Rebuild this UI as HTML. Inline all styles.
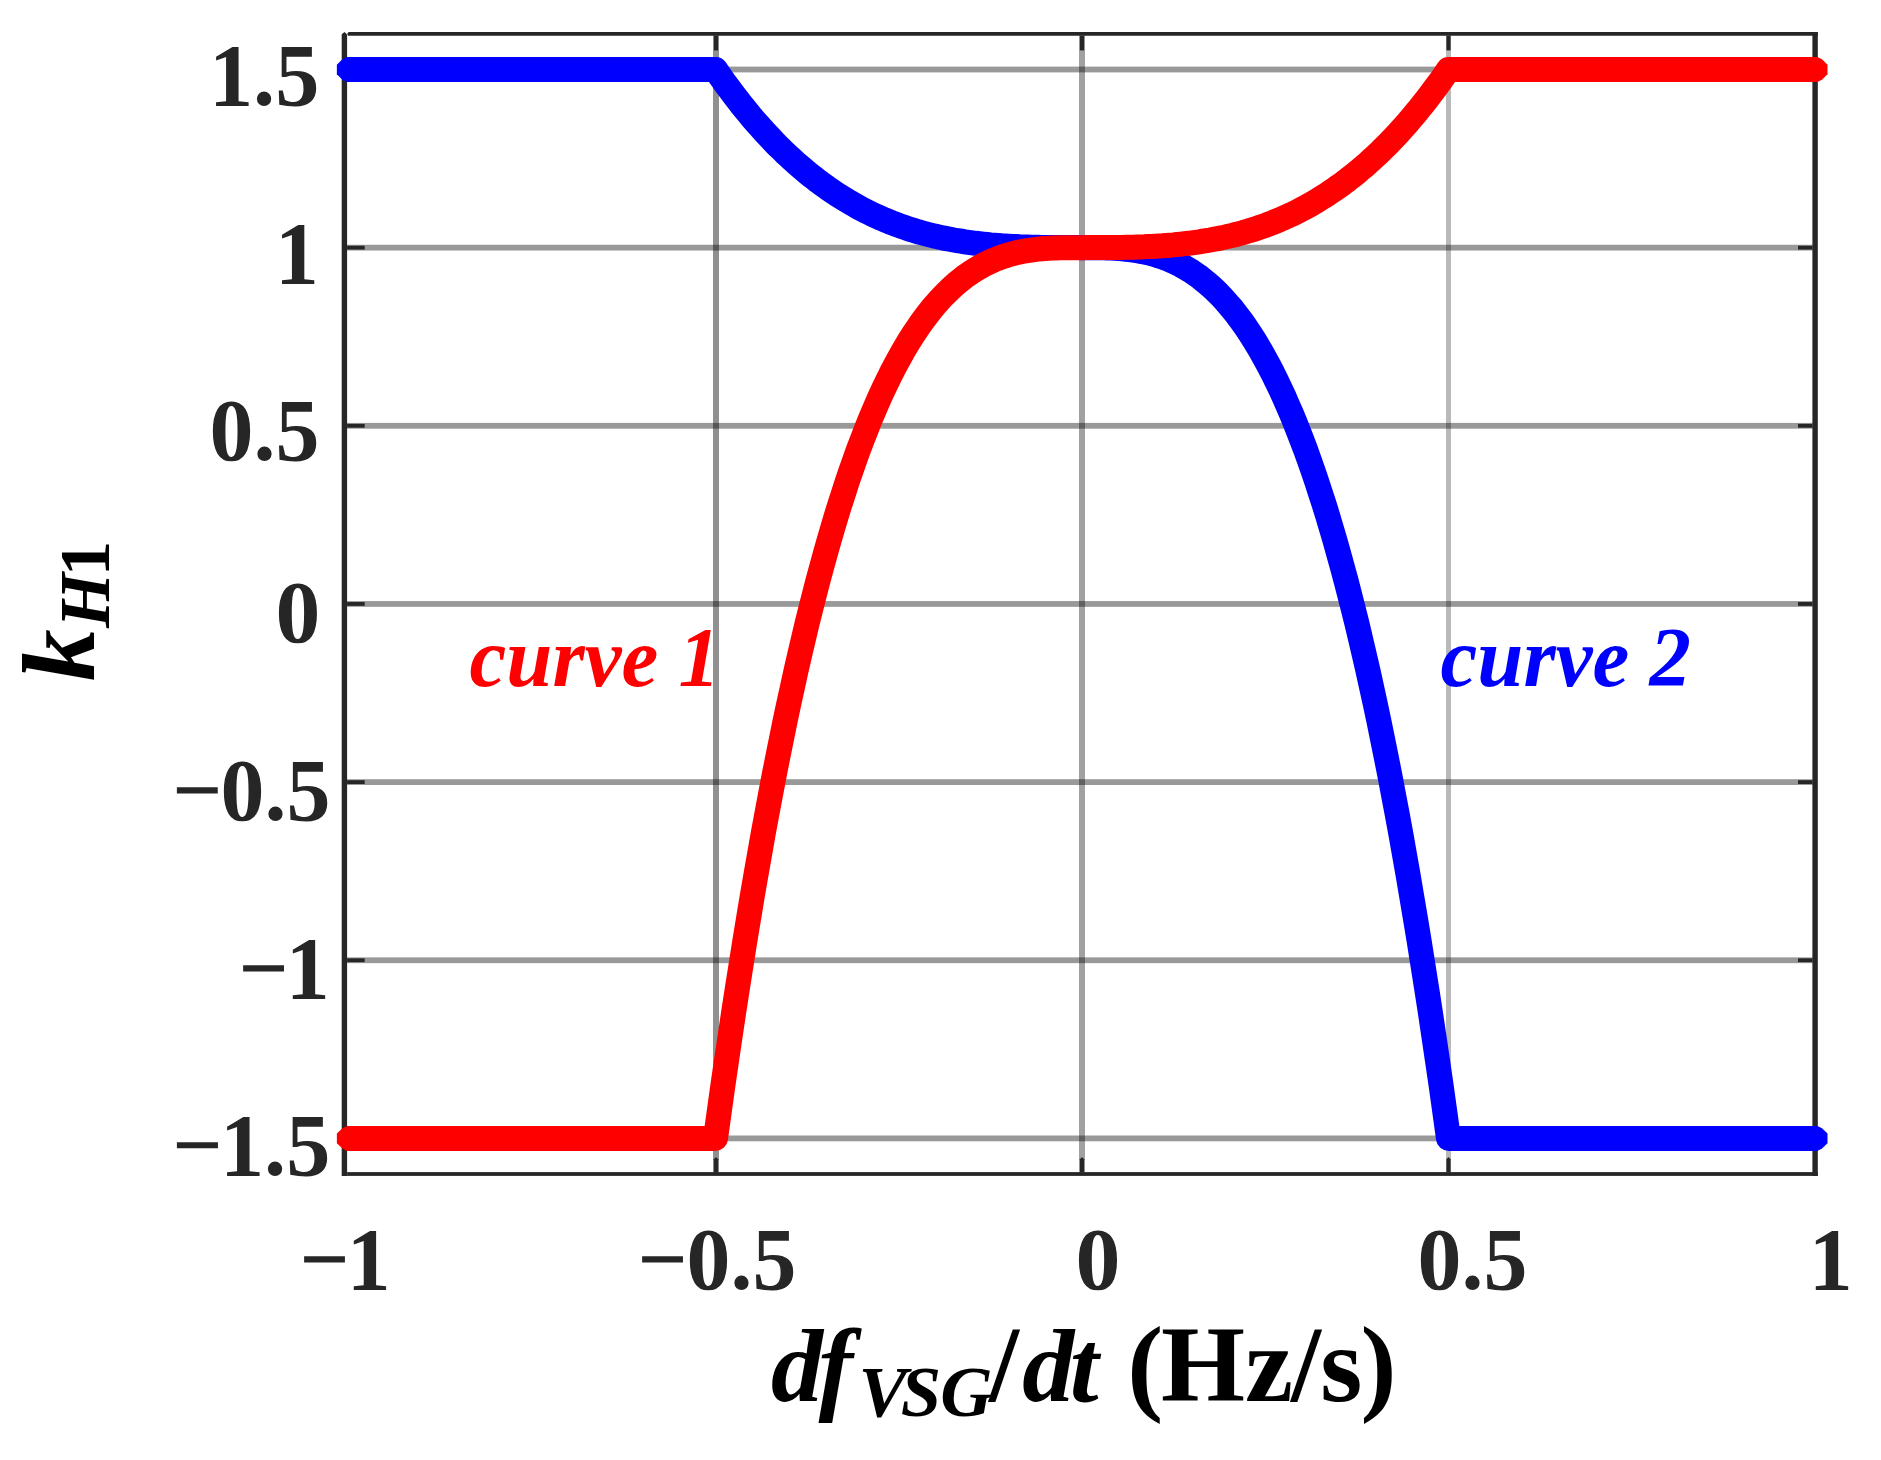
<!DOCTYPE html>
<html lang="en"><head><meta charset="utf-8"><title>kH1 versus dfVSG/dt</title>
<style>html,body{margin:0;padding:0;background:#fff}svg{display:block}</style>
</head><body>
<svg width="1881" height="1460" viewBox="0 0 1881 1460" role="img" aria-label="kH1 versus dfVSG/dt (Hz/s): curve 1 and curve 2">
<rect x="0" y="0" width="1881" height="1460" fill="#fff"/>
<g id="grid" fill="#000">
<rect x="344.4" y="66.60" width="1470.70" height="5.8" fill-opacity="0.4"/>
<rect x="344.4" y="244.75" width="1470.70" height="5.8" fill-opacity="0.4"/>
<rect x="344.4" y="422.90" width="1470.70" height="5.8" fill-opacity="0.4"/>
<rect x="344.4" y="601.05" width="1470.70" height="5.8" fill-opacity="0.4"/>
<rect x="344.4" y="779.20" width="1470.70" height="5.8" fill-opacity="0.4"/>
<rect x="344.4" y="957.35" width="1470.70" height="5.8" fill-opacity="0.4"/>
<rect x="344.4" y="1135.50" width="1470.70" height="5.8" fill-opacity="0.4"/>
<rect x="713.00" y="33.9" width="6.0" height="1140.10" fill-opacity="0.435"/>
<rect x="1079.00" y="33.9" width="6.0" height="1140.10" fill-opacity="0.37"/>
<rect x="1446.00" y="33.9" width="5.0" height="1140.10" fill-opacity="0.275"/>
</g>
<g id="box" fill="#262626">
<polygon points="341.7,1175.90 341.7,34.3 344.5,31.9 347.1,34.6 347.1,1175.90"/>
<rect x="1812.40" y="32.00" width="5.4" height="1143.90"/>
<polygon points="347.1,33.9 348.6,32.00 1817.80,32.00 1817.80,35.80 348.2,35.80"/>
<rect x="347.1" y="1172.10" width="1470.70" height="3.8"/>
<rect x="347.10" y="67.60" width="17.6" height="3.8"/>
<rect x="1798.0" y="67.60" width="14.40" height="3.8"/>
<rect x="347.10" y="245.75" width="17.6" height="3.8"/>
<rect x="1798.0" y="245.75" width="14.40" height="3.8"/>
<rect x="347.10" y="423.90" width="17.6" height="3.8"/>
<rect x="1798.0" y="423.90" width="14.40" height="3.8"/>
<rect x="347.10" y="602.05" width="17.6" height="3.8"/>
<rect x="1798.0" y="602.05" width="14.40" height="3.8"/>
<rect x="347.10" y="780.20" width="17.6" height="3.8"/>
<rect x="1798.0" y="780.20" width="14.40" height="3.8"/>
<rect x="347.10" y="958.35" width="17.6" height="3.8"/>
<rect x="1798.0" y="958.35" width="14.40" height="3.8"/>
<rect x="347.10" y="1136.50" width="17.6" height="3.8"/>
<rect x="1798.0" y="1136.50" width="14.40" height="3.8"/>
<rect x="713.90" y="35.80" width="4.2" height="14.6"/>
<polygon points="713.90,1172.10 713.90,1159.2 716.00,1157.0 718.10,1159.2 718.10,1172.10"/>
<rect x="1079.90" y="35.80" width="4.2" height="14.6"/>
<polygon points="1079.90,1172.10 1079.90,1159.2 1082.00,1157.0 1084.10,1159.2 1084.10,1172.10"/>
<rect x="1446.40" y="35.80" width="4.2" height="14.6"/>
<polygon points="1446.40,1172.10 1446.40,1159.2 1448.50,1157.0 1450.60,1159.2 1450.60,1172.10"/>
</g>
<g id="text" font-family="'Liberation Serif', serif" font-weight="bold">
<text transform="translate(469.56,686.18) scale(0.9806,1)" font-size="84.5" font-style="italic" fill="#f00" dx="0 0 0 0 0 0 -0.43">curve 1</text>
<text transform="translate(1440.56,686.18) scale(0.9806,1)" font-size="84.5" font-style="italic" fill="#00f" dx="0 0 0 0 0 0 -0.55">curve 2</text>
<text transform="translate(208.93,104.57) scale(0.9931,1)" font-size="89.0" fill="#262626">1.5</text>
<text transform="translate(274.89,282.67) scale(0.9845,1)" font-size="89.0" fill="#262626">1</text>
<text transform="translate(209.50,459.94) scale(0.9878,1)" font-size="89.0" fill="#262626">0.5</text>
<text transform="translate(275.53,642.00) scale(1.0086,1)" font-size="89.0" fill="#262626">0</text>
<text transform="translate(220.50,819.92) scale(0.9878,1)" font-size="89.0" fill="#262626" x="-48.75 0">−0.5</text>
<text transform="translate(285.77,997.79) scale(0.9875,1)" font-size="89.0" fill="#262626" x="-47.86 0">−1</text>
<text transform="translate(219.94,1174.55) scale(0.9921,1)" font-size="89.0" fill="#262626" x="-48.03 0">−1.5</text>
<text transform="translate(346.78,1288.80) scale(0.9857,1)" font-size="89.0" fill="#262626" x="-47.99 0">−1</text>
<text transform="translate(686.50,1288.92) scale(0.9874,1)" font-size="89.0" fill="#262626" x="-49.75 0">−0.5</text>
<text transform="translate(1075.43,1289.15) scale(1.0099,1)" font-size="89.0" fill="#262626">0</text>
<text transform="translate(1417.60,1288.92) scale(0.9878,1)" font-size="89.0" fill="#262626">0.5</text>
<text transform="translate(1808.77,1288.82) scale(0.9875,1)" font-size="89.0" fill="#262626">1</text>
<text y="1401.2" font-size="108.0" fill="#000"><tspan x="771.05 818.42" font-size="104.0" font-style="italic">df</tspan><tspan x="858.53 900.69 940.37" y="1416.4" font-size="72.5" font-style="italic">VSG</tspan><tspan x="989.12" y="1401.2">/</tspan><tspan x="1022.15 1069.86" font-size="104.0" font-style="italic">dt</tspan><tspan x="1100.32 1127.32 1161.07 1245.05 1291.12 1320.22 1360.59"> (Hz/s)</tspan></text>
<text transform="translate(94.16,681.25) rotate(-90)" font-size="104" fill="#000"><tspan font-style="italic">k</tspan><tspan x="53.18" dy="15.04" font-size="71.0" font-style="italic">H</tspan><tspan x="105.12" font-size="71.0">1</tspan></text>
</g>
<g id="curve2">
<path d="M349.4 69.5L715.5 69.5L719.2 74.8L722.8 80.0L726.5 85.1L730.2 90.0L733.8 94.9L737.5 99.7L741.2 104.4L744.8 108.9L748.5 113.4L752.1 117.8L755.8 122.1L759.5 126.2L763.1 130.3L766.8 134.3L770.5 138.2L774.1 142.1L777.8 145.8L781.5 149.4L785.1 153.0L788.8 156.4L792.5 159.8L796.1 163.1L799.8 166.3L803.5 169.4L807.1 172.5L810.8 175.5L814.5 178.3L818.1 181.2L821.8 183.9L825.5 186.5L829.1 189.1L832.8 191.6L836.4 194.1L840.1 196.4L843.8 198.7L847.4 200.9L851.1 203.1L854.8 205.2L858.4 207.2L862.1 209.2L865.8 211.1L869.4 212.9L873.1 214.7L876.8 216.4L880.4 218.0L884.1 219.6L887.8 221.1L891.4 222.6L895.1 224.0L898.8 225.4L902.4 226.7L906.1 227.9L909.7 229.2L913.4 230.3L917.1 231.4L920.7 232.5L924.4 233.5L928.1 234.5L931.7 235.4L935.4 236.2L939.1 237.1L942.7 237.9L946.4 238.6L950.1 239.3L953.7 240.0L957.4 240.6L961.1 241.2L964.7 241.8L968.4 242.3L972.1 242.8L975.7 243.3L979.4 243.7L983.0 244.1L986.7 244.5L990.4 244.9L994.0 245.2L997.7 245.5L1001.4 245.8L1005.0 246.0L1008.7 246.2L1012.4 246.4L1016.0 246.6L1019.7 246.8L1023.4 246.9L1027.0 247.0L1030.7 247.2L1034.4 247.3L1038.0 247.3L1041.7 247.4L1045.3 247.5L1049.0 247.5L1052.7 247.6L1056.3 247.6L1060.0 247.6L1063.7 247.6L1067.3 247.6L1071.0 247.6L1074.7 247.6L1078.3 247.6L1082.0 247.7L1085.7 247.7L1089.3 247.7L1093.0 247.7L1096.7 247.7L1100.3 247.8L1104.0 247.8L1107.7 248.0L1111.3 248.1L1115.0 248.3L1118.7 248.5L1122.3 248.8L1126.0 249.2L1129.6 249.6L1133.3 250.1L1137.0 250.7L1140.6 251.3L1144.3 252.0L1148.0 252.8L1151.6 253.8L1155.3 254.8L1159.0 255.9L1162.6 257.1L1166.3 258.5L1170.0 260.0L1173.6 261.6L1177.3 263.3L1181.0 265.2L1184.6 267.2L1188.3 269.4L1192.0 271.7L1195.6 274.2L1199.3 276.8L1202.9 279.7L1206.6 282.7L1210.3 285.8L1213.9 289.2L1217.6 292.8L1221.3 296.5L1224.9 300.5L1228.6 304.7L1232.3 309.0L1235.9 313.6L1239.6 318.5L1243.3 323.5L1246.9 328.8L1250.6 334.4L1254.3 340.1L1257.9 346.2L1261.6 352.4L1265.2 359.0L1268.9 365.8L1272.6 372.9L1276.2 380.3L1279.9 387.9L1283.6 395.8L1287.2 404.1L1290.9 412.6L1294.6 421.4L1298.2 430.6L1301.9 440.1L1305.6 449.8L1309.2 459.9L1312.9 470.4L1316.6 481.2L1320.2 492.3L1323.9 503.7L1327.6 515.6L1331.2 527.7L1334.9 540.3L1338.5 553.2L1342.2 566.5L1345.9 580.1L1349.5 594.2L1353.2 608.6L1356.9 623.4L1360.5 638.7L1364.2 654.3L1367.9 670.4L1371.5 686.8L1375.2 703.7L1378.9 721.0L1382.5 738.8L1386.2 757.0L1389.9 775.6L1393.5 794.7L1397.2 814.2L1400.9 834.2L1404.5 854.7L1408.2 875.6L1411.8 897.0L1415.5 918.9L1419.2 941.3L1422.8 964.1L1426.5 987.5L1430.2 1011.4L1433.8 1035.7L1437.5 1060.6L1441.2 1086.0L1444.8 1111.9L1448.5 1138.4L1815.0 1138.4" fill="none" stroke="#00f" stroke-width="25" stroke-linejoin="round" stroke-linecap="butt"/>
<polygon points="352.37,57.00 347.07,57.00 342.37,59.30 336.87,64.70 336.87,74.30 342.37,79.70 347.07,82.00 352.37,82.00" fill="#00f"/>
<polygon points="1812.00,1125.90 1817.30,1125.90 1822.00,1128.20 1827.50,1133.60 1827.50,1143.20 1822.00,1148.60 1817.30,1150.90 1812.00,1150.90" fill="#00f"/>
</g>
<g id="curve1">
<path d="M349.4 1138.4L715.5 1138.4L719.2 1111.9L722.8 1086.0L726.5 1060.6L730.2 1035.7L733.8 1011.4L737.5 987.5L741.2 964.1L744.8 941.3L748.5 918.9L752.1 897.0L755.8 875.6L759.5 854.7L763.1 834.2L766.8 814.2L770.5 794.7L774.1 775.6L777.8 757.0L781.5 738.8L785.1 721.0L788.8 703.7L792.5 686.8L796.1 670.4L799.8 654.3L803.5 638.7L807.1 623.4L810.8 608.6L814.5 594.2L818.1 580.1L821.8 566.5L825.5 553.2L829.1 540.3L832.8 527.7L836.4 515.6L840.1 503.7L843.8 492.3L847.4 481.2L851.1 470.4L854.8 459.9L858.4 449.8L862.1 440.1L865.8 430.6L869.4 421.4L873.1 412.6L876.8 404.1L880.4 395.8L884.1 387.9L887.8 380.3L891.4 372.9L895.1 365.8L898.8 359.0L902.4 352.4L906.1 346.2L909.7 340.1L913.4 334.4L917.1 328.8L920.7 323.5L924.4 318.5L928.1 313.6L931.7 309.0L935.4 304.7L939.1 300.5L942.7 296.5L946.4 292.8L950.1 289.2L953.7 285.8L957.4 282.7L961.1 279.7L964.7 276.8L968.4 274.2L972.1 271.7L975.7 269.4L979.4 267.2L983.0 265.2L986.7 263.3L990.4 261.6L994.0 260.0L997.7 258.5L1001.4 257.1L1005.0 255.9L1008.7 254.8L1012.4 253.8L1016.0 252.8L1019.7 252.0L1023.4 251.3L1027.0 250.7L1030.7 250.1L1034.4 249.6L1038.0 249.2L1041.7 248.8L1045.3 248.5L1049.0 248.3L1052.7 248.1L1056.3 248.0L1060.0 247.8L1063.7 247.8L1067.3 247.7L1071.0 247.7L1074.7 247.7L1078.3 247.7L1082.0 247.7L1085.7 247.6L1089.3 247.6L1093.0 247.6L1096.7 247.6L1100.3 247.6L1104.0 247.6L1107.7 247.6L1111.3 247.6L1115.0 247.5L1118.7 247.5L1122.3 247.4L1126.0 247.3L1129.6 247.3L1133.3 247.2L1137.0 247.0L1140.6 246.9L1144.3 246.8L1148.0 246.6L1151.6 246.4L1155.3 246.2L1159.0 246.0L1162.6 245.8L1166.3 245.5L1170.0 245.2L1173.6 244.9L1177.3 244.5L1181.0 244.1L1184.6 243.7L1188.3 243.3L1192.0 242.8L1195.6 242.3L1199.3 241.8L1202.9 241.2L1206.6 240.6L1210.3 240.0L1213.9 239.3L1217.6 238.6L1221.3 237.9L1224.9 237.1L1228.6 236.2L1232.3 235.4L1235.9 234.5L1239.6 233.5L1243.3 232.5L1246.9 231.4L1250.6 230.3L1254.3 229.2L1257.9 227.9L1261.6 226.7L1265.2 225.4L1268.9 224.0L1272.6 222.6L1276.2 221.1L1279.9 219.6L1283.6 218.0L1287.2 216.4L1290.9 214.7L1294.6 212.9L1298.2 211.1L1301.9 209.2L1305.6 207.2L1309.2 205.2L1312.9 203.1L1316.6 200.9L1320.2 198.7L1323.9 196.4L1327.6 194.1L1331.2 191.6L1334.9 189.1L1338.5 186.5L1342.2 183.9L1345.9 181.2L1349.5 178.3L1353.2 175.5L1356.9 172.5L1360.5 169.4L1364.2 166.3L1367.9 163.1L1371.5 159.8L1375.2 156.4L1378.9 153.0L1382.5 149.4L1386.2 145.8L1389.9 142.1L1393.5 138.2L1397.2 134.3L1400.9 130.3L1404.5 126.2L1408.2 122.1L1411.8 117.8L1415.5 113.4L1419.2 108.9L1422.8 104.4L1426.5 99.7L1430.2 94.9L1433.8 90.0L1437.5 85.1L1441.2 80.0L1444.8 74.8L1448.5 69.5L1815.0 69.5" fill="none" stroke="#f00" stroke-width="25" stroke-linejoin="round" stroke-linecap="butt"/>
<polygon points="352.37,1125.90 347.07,1125.90 342.37,1128.20 336.87,1133.60 336.87,1143.20 342.37,1148.60 347.07,1150.90 352.37,1150.90" fill="#f00"/>
<polygon points="1812.00,57.00 1817.30,57.00 1822.00,59.30 1827.50,64.70 1827.50,74.30 1822.00,79.70 1817.30,82.00 1812.00,82.00" fill="#f00"/>
</g>
</svg>
</body></html>
